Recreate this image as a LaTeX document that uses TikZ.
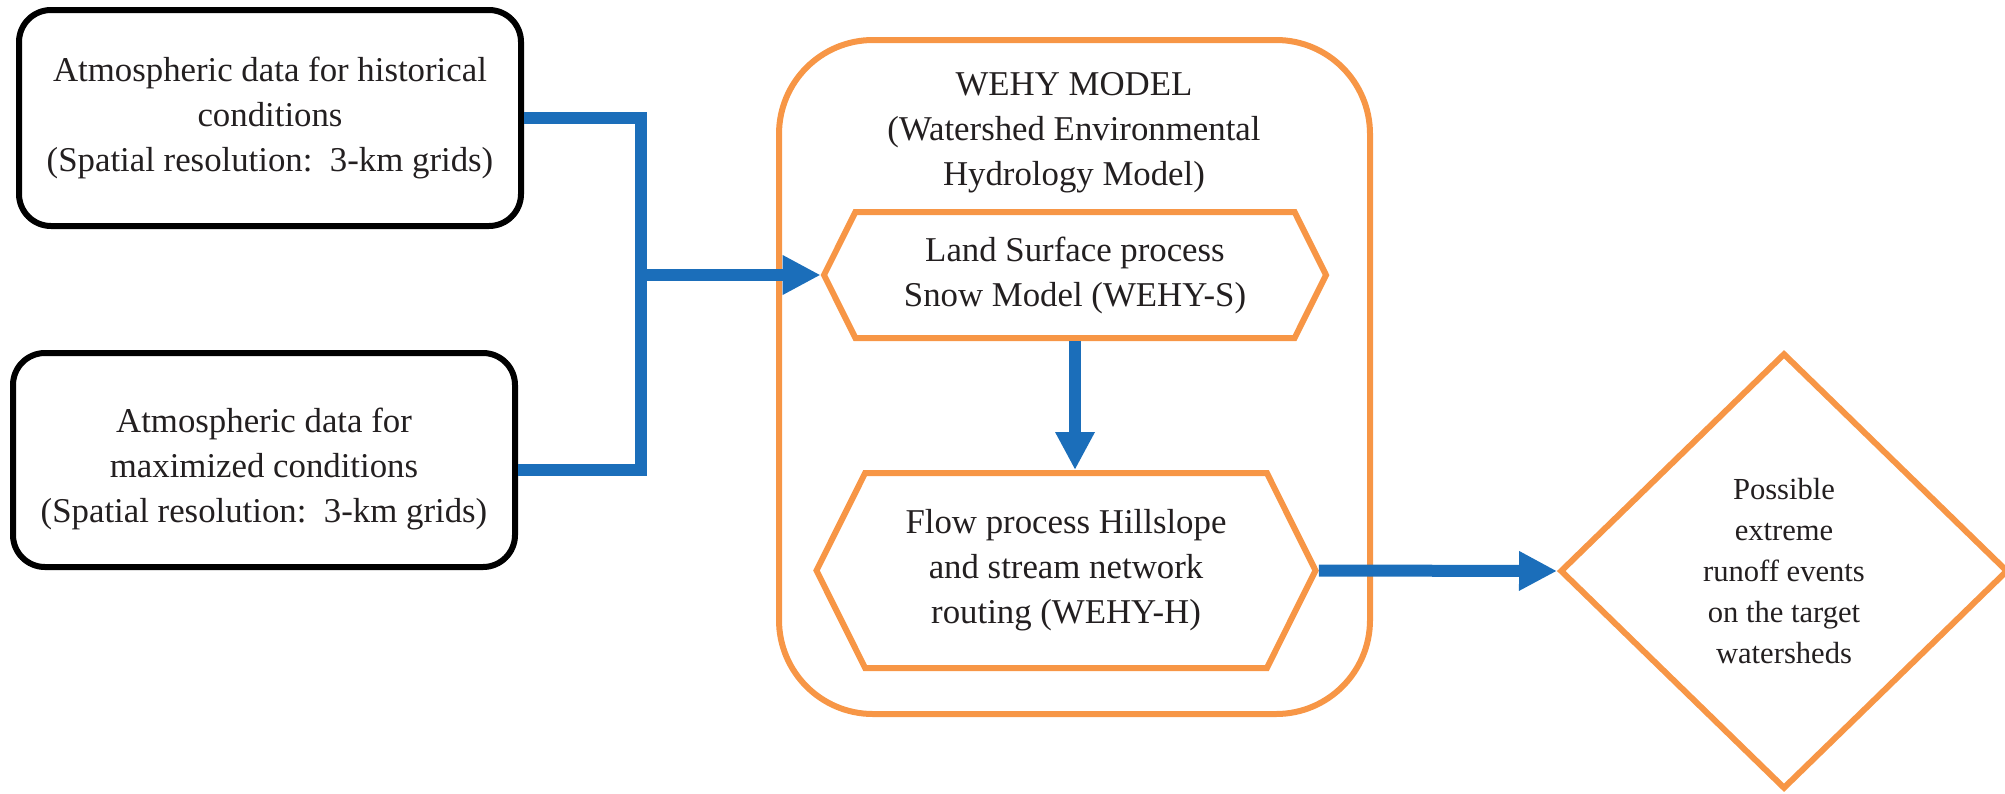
\documentclass[tikz,border=0pt]{standalone}
\usepackage{fontspec}
\setmainfont{Liberation Serif}
\usepackage{tikz}
\usetikzlibrary{arrows.meta, positioning, shapes.geometric, shapes.symbols, calc}
\definecolor{wehyorange}{HTML}{F79646}
\definecolor{flowblue}{HTML}{1B6EBA}
\definecolor{ink}{HTML}{231F20}
\newcommand{\BoxFont}{\fontsize{17.4}{22.5}\selectfont}
\newcommand{\EventFont}{\fontsize{15.3}{20.5}\selectfont}
\tikzset{
    databox/.style={draw=black, line width=3pt, rounded corners=16pt, minimum width=251pt, minimum height=108pt, align=center, font=\BoxFont, text=ink},
    modelbox/.style={draw=wehyorange, line width=3pt, rounded corners=47pt, minimum width=295.5pt, minimum height=337pt},
    proc/.style={signal, signal to=west and east, signal pointer angle=127, draw=wehyorange, line width=3pt, align=center, font=\BoxFont, text=ink, inner sep=0pt},
    outcome/.style={diamond, draw=wehyorange, line width=3pt, minimum width=224pt, minimum height=218pt, align=center, font=\EventFont, text=ink, inner sep=0pt},
    bus/.style={draw=flowblue, line width=6pt},
    flow/.style={bus, -{Triangle[length=19pt, width=18.5pt]}},
}

\begin{document}
\begin{tikzpicture}[x=0.5pt, y=-0.5pt]
    \useasboundingbox (0,0) rectangle (2005,793);

    % inputs
    \node[databox] (hist) at (270,118) {Atmospheric data for historical\\ conditions\\ (Spatial resolution:\ \ 3-km grids)};
    \node[databox, minimum height=107pt, text height=66pt] (maxi) at (264,460) {Atmospheric data for\\ maximized conditions\\ (Spatial resolution:\ \ 3-km grids)};

    % model
    \node[modelbox] (wehy) at (1074.5,377) {};
    \node[align=center, font=\BoxFont, text=ink] (title) at (1074,133) {WEHY MODEL\\ (Watershed Environmental\\ Hydrology Model)};

    \node[proc, minimum width=251pt, minimum height=63pt] (land) at (1075,275) {Land Surface process\\ Snow Model (WEHY-S)};
    \node[proc, minimum width=249.5pt, minimum height=97.5pt] (hill) at (1066,570.5) {Flow process Hillslope\\ and stream network\\ routing (WEHY-H)};

    % output
    \node[outcome] (event) at (1784,571) {Possible\\ extreme\\ runoff events\\ on the target\\ watersheds};

    \coordinate (split) at (641,275);

    \draw[bus] (hist.east) -| (split) |- ([yshift=-5pt]maxi.east);
    \draw[flow] (split) -- (land.west);
    \draw[flow] (land.south) -- (land.south |- hill.north);
    \draw[flow] (hill.east) -- (event.west);

\end{tikzpicture}
\end{document}
